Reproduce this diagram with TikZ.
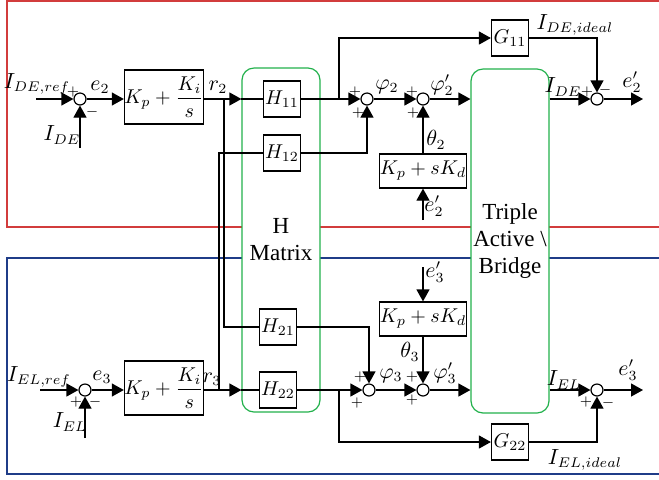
\documentclass[tikz,border=0pt]{standalone}
\usepackage{fontspec}
\setmainfont{Liberation Serif}
\usepackage{amsmath}
\usetikzlibrary{arrows.meta, positioning, calc}
\definecolor{frameRed}{HTML}{D23C3C}
\definecolor{frameBlue}{HTML}{1F3C88}
\definecolor{hGreen}{HTML}{22B14C}

\begin{document}
\begin{tikzpicture}[
    x=0.5pt, y=-0.5pt, line width=0.6pt,
    gbox/.style={draw, fill=white, minimum width=18.5pt, minimum height=18pt, inner sep=0pt},
    pibox/.style={draw, fill=white, minimum width=38pt, minimum height=27pt, inner sep=0pt},
    pdbox/.style={draw, fill=white, minimum width=40pt, minimum height=17pt, inner sep=0pt},
    sumj/.style={draw, circle, fill=white, minimum size=6pt, inner sep=0pt},
    bigbox/.style={draw=hGreen, fill=white, rounded corners=6pt, inner sep=1pt,
                   minimum width=39pt, minimum height=172pt, align=center,
                   font=\fontsize{11.5}{13.5}\selectfont},
    arr/.style={-{Triangle[length=6pt, width=6.5pt]}},
    sgn/.style={font=\scriptsize, inner sep=0pt},
    lbl/.style={inner sep=0pt, font=\fontsize{10.5}{12}\selectfont},
]
\useasboundingbox (0,0) rectangle (659,479);

% loop frames
\draw[frameRed, line width=0.75pt] (660,1) -- (7,1) -- (7,227) -- (660,227);
\draw[frameBlue, line width=0.75pt] (660,258) -- (7,258) -- (7,474) -- (660,474);

\node[bigbox] (hmat) at (281,240) {H\\Matrix};
\node[bigbox] (tab)  at (510,241) {Triple\\Active \textbackslash\\Bridge};

% DE loop
\coordinate (inA)  at (36,99);
\coordinate (fbA)  at (80,148);
\node[sumj]  (sumA)  at (80,99) {};
\node[pibox] (piA)   at (164,97) {$K_p+\displaystyle\frac{K_i}{s}$};
\coordinate (brA)  at (224,99);
\node[gbox]  (h11)   at (282,99) {$H_{11}$};
\node[gbox]  (h12)   at (282,153) {$H_{12}$};
\coordinate (brA1) at (339,99);
\node[sumj]  (sumA1) at (367,99) {};
\node[sumj]  (sumA2) at (423,99) {};
\node[pdbox] (pdA)   at (423,171) {$K_p+sK_d$};
\coordinate (inPdA) at (423,220);
\node[gbox]  (g11)   at (510,38) {$G_{11}$};
\node[sumj]  (sumA3) at (597,99) {};
\coordinate (outA) at (643,99);

% EL loop
\coordinate (inB)  at (40,390);
\coordinate (fbB)  at (85,438);
\node[sumj]  (sumB)  at (85,390) {};
\node[pibox] (piB)   at (164,388) {$K_p+\displaystyle\frac{K_i}{s}$};
\coordinate (brB)  at (219,390);
\node[gbox]  (h21)   at (278,327) {$H_{21}$};
\node[gbox]  (h22)   at (278,390) {$H_{22}$};
\coordinate (brB1) at (339,390);
\node[sumj]  (sumB1) at (369,390) {};
\node[sumj]  (sumB2) at (423,390) {};
\node[pdbox] (pdB)   at (423,319) {$K_p+sK_d$};
\coordinate (inPdB) at (423,267);
\node[gbox]  (g22)   at (510,442) {$G_{22}$};
\node[sumj]  (sumB3) at (597,390) {};
\coordinate (outB) at (643,390);

% DE connectors
\draw[arr] (inA) -- (sumA);
\draw[arr] (fbA) -- (sumA);
\draw[arr] (sumA) -- (sumA -| piA.west);
\draw[arr] (sumA -| piA.east) -- (hmat.west |- sumA);
\draw (hmat.west |- h11) -- (h11);
\draw (brA) |- (h21);
\draw[arr] (h11) -- (sumA1);
\draw[arr] (brA1) |- (g11);
\draw[arr] (h12) -| (sumA1);
\draw[arr] (sumA1) -- (sumA2);
\draw[arr] (pdA) -- (sumA2);
\draw[arr] (inPdA) -- (pdA);
\draw[arr] (sumA2) -- (tab.west |- sumA2);
\draw[arr] (g11) -| (sumA3);
\draw[arr] (tab.east |- sumA3) -- (sumA3);
\draw[arr] (sumA3) -- (outA);

% EL connectors
\draw[arr] (inB) -- (sumB);
\draw[arr] (fbB) -- (sumB);
\draw[arr] (sumB) -- (sumB -| piB.west);
\draw[arr] (sumB -| piB.east) -- (hmat.west |- sumB);
\draw (hmat.west |- h22) -- (h22);
\draw (brB) |- (h12);
\draw[arr] (h21) -| (sumB1);
\draw[arr] (h22) -- (sumB1);
\draw[arr] (brB1) |- (g22);
\draw[arr] (sumB1) -- (sumB2);
\draw[arr] (pdB) -- (sumB2);
\draw[arr] (inPdB) -- (pdB);
\draw[arr] (sumB2) -- (tab.west |- sumB2);
\draw[arr] (g22) -| (sumB3);
\draw[arr] (tab.east |- sumB3) -- (sumB3);
\draw[arr] (sumB3) -- (outB);

% DE labels
\node[lbl] (lIDEref) at (37,84)  {$I_{DE,ref}$};
\node[lbl] (lIDE)    at (62,135) {$I_{DE}$};
\node[lbl] (le2)     at (100,87) {$e_2$};
\node[lbl] (lr2)     at (218,87) {$r_2$};
\node[lbl] (lphi2)   at (387,87) {$\varphi_2$};
\node[lbl] (lphi2p)  at (442,85) {$\varphi_2^{\prime}$};
\node[lbl] (ltheta2) at (436,140) {$\theta_2$};
\node[lbl] (le2in)   at (434,206) {$e_2^{\prime}$};
\node[lbl] (lIDEid)  at (575,25) {$I_{DE,ideal}$};
\node[lbl] (lIDEo)   at (563,87) {$I_{DE}$};
\node[lbl] (le2o)    at (632,82) {$e_2^{\prime}$};
\node[sgn] (pA1)  at (73,92)  {$+$};
\node[sgn] (mA1)  at (92,112) {$-$};
\node[sgn] (pA2)  at (355,92) {$+$};
\node[sgn] (pA3)  at (358,113) {$+$};
\node[sgn] (pA4)  at (412,92) {$+$};
\node[sgn] (pA5)  at (413,113) {$+$};
\node[sgn] (pA6)  at (587,92) {$+$};
\node[sgn] (mA2)  at (605,90) {$-$};

% EL labels
\node[lbl] (lIELref) at (39,377) {$I_{EL,ref}$};
\node[lbl] (lIEL)    at (70,422) {$I_{EL}$};
\node[lbl] (le3)     at (102,377) {$e_3$};
\node[lbl] (lr3)     at (212,379) {$r_3$};
\node[lbl] (le3in)   at (435,272) {$e_3^{\prime}$};
\node[lbl] (ltheta3) at (410,352) {$\theta_3$};
\node[lbl] (lphi3)   at (391,376) {$\varphi_3$};
\node[lbl] (lphi3p)  at (445,373) {$\varphi_3^{\prime}$};
\node[lbl] (lIELo)   at (564,380) {$I_{EL}$};
\node[lbl] (le3o)    at (628,370) {$e_3^{\prime}$};
\node[lbl] (lIELid)  at (585,460) {$I_{EL,ideal}$};
\node[sgn] (pB1)  at (76,402)  {$+$};
\node[sgn] (mB1)  at (95,402)  {$-$};
\node[sgn] (pB2)  at (360,377) {$+$};
\node[sgn] (pB3)  at (357,403) {$+$};
\node[sgn] (pB4)  at (412,377) {$+$};
\node[sgn] (pB5)  at (412,400) {$+$};
\node[sgn] (pB6)  at (586,402) {$+$};
\node[sgn] (mB2)  at (608,403) {$-$};
\end{tikzpicture}
\end{document}
